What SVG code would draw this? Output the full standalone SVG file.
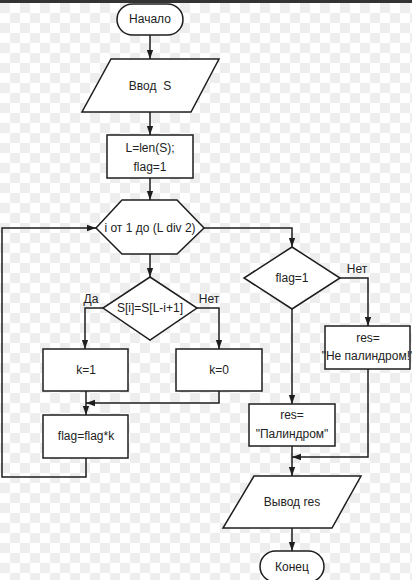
<svg xmlns="http://www.w3.org/2000/svg" width="412" height="580" viewBox="0 0 412 580">
<defs>
<pattern id="chk" x="0" y="3" width="20" height="20" patternUnits="userSpaceOnUse">
<rect width="20" height="20" fill="#ffffff"/>
<rect x="0" y="0" width="10" height="10" fill="#eeeeee"/>
<rect x="10" y="10" width="10" height="10" fill="#eeeeee"/>
</pattern>
<marker id="ar" viewBox="0 0 10 10" refX="10" refY="5" markerWidth="9" markerHeight="9" markerUnits="userSpaceOnUse" orient="auto">
<path d="M0,1.5 L10,5 L0,8.5 Z" fill="#1e1e1e"/>
</marker>
<style>
.s{fill:#ffffff;stroke:#1e1e1e;stroke-width:1.5}
.t{font-family:"Liberation Sans",Arial,sans-serif;font-size:12px;fill:#222;text-anchor:middle}
.c{fill:none;stroke:#1e1e1e;stroke-width:1.5;marker-end:url(#ar)}
.n{fill:none;stroke:#1e1e1e;stroke-width:1.5}
</style>
</defs>
<rect width="412" height="580" fill="url(#chk)"/>
<rect width="412" height="3" fill="#333333"/>
<g id="start"><rect class="s" x="117" y="4" width="66" height="31" rx="15.5"/><text class="t" x="150" y="23">Начало</text></g>
<g id="input"><polygon class="s" points="111,59 219,59 191,112 82,112"/><text class="t" x="150" y="90" xml:space="preserve">Ввод  S</text></g>
<g id="init"><rect class="s" x="107" y="135" width="86" height="43"/><text class="t" x="150" y="152">L=len(S);</text><text class="t" x="150" y="171">flag=1</text></g>
<g id="loop"><polygon class="s" points="96,228 122,200 177,200 204,228 177,254 122,254"/><text class="t" x="150" y="232">i от 1 до (L div 2)</text></g>
<g id="cmp"><polygon class="s" points="150,277 197,308 150,340 103,308"/><text class="t" x="150" y="312">S[i]=S[L-i+1]</text></g>
<g id="k1"><rect class="s" x="43" y="349" width="85" height="42"/><text class="t" x="86" y="374">k=1</text></g>
<g id="k0"><rect class="s" x="176" y="349" width="86" height="42"/><text class="t" x="219" y="374">k=0</text></g>
<g id="flagk"><rect class="s" x="43" y="415" width="85" height="43"/><text class="t" x="86" y="440">flag=flag*k</text></g>
<g id="flagchk"><polygon class="s" points="292,247 340,278 292,309 244,278"/><text class="t" x="292" y="282">flag=1</text></g>
<g id="resno"><rect class="s" x="325" y="326" width="85" height="43"/><text class="t" x="368" y="342">res=</text><text class="t" x="368" y="360">"Не палиндром!"</text></g>
<g id="resyes"><rect class="s" x="249" y="404" width="86" height="42"/><text class="t" x="292" y="419">res=</text><text class="t" x="292" y="438">"Палиндром"</text></g>
<g id="output"><polygon class="s" points="254,476 361,476 332,528 223,528"/><text class="t" x="292" y="506">Вывод res</text></g>
<g id="end"><rect class="s" x="260" y="551" width="64" height="31" rx="15.5"/><text class="t" x="292" y="571">Конец</text></g>
<g id="connectors">
<path class="c" d="M150,35 V59"/>
<path class="c" d="M150,112 V135"/>
<path class="c" d="M150,178 V200"/>
<path class="c" d="M150,254 V277"/>
<path class="c" d="M204,228 H292 V247"/>
<path class="c" d="M103,308 H85 V349"/>
<path class="c" d="M197,308 H219 V349"/>
<path class="c" d="M86,391 V415"/>
<path class="c" d="M219,391 V403 H86"/>
<path class="c" d="M86,458 V477 H2 V228 H96"/>
<path class="c" d="M340,278 H368 V326"/>
<path class="c" d="M292,309 V404"/>
<path class="c" d="M368,369 V457 H292"/>
<path class="c" d="M292,446 V476"/>
<path class="c" d="M292,528 V551"/>
<text class="t" x="91" y="303">Да</text>
<text class="t" x="209" y="303">Нет</text>
<text class="t" x="357" y="273">Нет</text>
</g>
</svg>
